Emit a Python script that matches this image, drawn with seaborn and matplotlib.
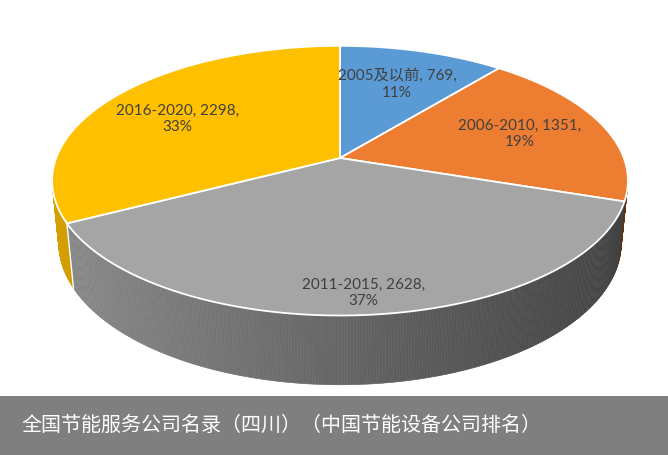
import numpy as np
import matplotlib
matplotlib.use("Agg")
import matplotlib.pyplot as plt
from matplotlib.patches import Polygon, Rectangle
import seaborn as sns

categories = ["2005及以前", "2006-2010", "2011-2015", "2016-2020"]
counts = [769, 1351, 2628, 2298]
title = "全国节能服务公司名录（四川）（中国节能设备公司排名）"

sns.set_theme(style="white")
plt.rcParams['font.family'] = ['Lato', 'Noto Sans CJK SC', 'DejaVu Sans']

colors = sns.color_palette(["#5B9BD5", "#ED7D31", "#A5A5A5", "#FFC000"])

# simple perspective camera for the "3D" pie (pixel space)
cx, cy = 340, 158
fx, fy = 1490, 1465
elev = np.radians(28)
dist = 5.25
depth_h = 0.255
# label placement (radius fraction, angle nudge in degrees)
label_r = [0.66, 0.68, 0.88, 0.68]
label_dth = [0, 0, 0, -3.9]


def project(X, Y, Z=0.0):
    s, c = np.sin(elev), np.cos(elev)
    d = dist + Y * c - Z * s
    return cx + fx * X / d, cy - fy * (Y * s + Z * c) / d


def shade(rgb, f):
    return tuple(min(1, max(0, v * f)) for v in rgb)


frac = np.array(counts) / np.sum(counts)
edges = np.concatenate([[0], np.cumsum(frac)]) * 2 * np.pi

fig = plt.figure(figsize=(6.68, 4.55), dpi=100)
ax = fig.add_axes([0, 0, 1, 1])
ax.set_xlim(0, 668)
ax.set_ylim(455, 0)
ax.axis('off')

# side wall, drawn back to front
x_left, x_right = project(-1, -0.17)[0], project(1, -0.17)[0]
strips = []
for i in range(len(counts)):
    th = np.linspace(edges[i], edges[i + 1], max(4, int(np.degrees(edges[i + 1] - edges[i]) * 2)))
    for a0, a1 in zip(th[:-1], th[1:]):
        pts = [project(np.sin(a0), np.cos(a0), 0), project(np.sin(a1), np.cos(a1), 0),
               project(np.sin(a1), np.cos(a1), -depth_h), project(np.sin(a0), np.cos(a0), -depth_h)]
        xm = np.mean([p[0] for p in pts])
        t = np.clip((xm - x_left) / (x_right - x_left), 0, 1)
        f = 0.84 - 0.45 * t
        strips.append((np.cos((a0 + a1) / 2), pts, shade(colors[i], f)))
strips.sort(key=lambda s: -s[0])
for _, pts, col in strips:
    ax.add_patch(Polygon(pts, closed=True, facecolor=col, edgecolor=col, lw=0.4))

# white seam between yellow and gray walls
a = edges[3]
ax.plot(*zip(project(np.sin(a), np.cos(a), 0), project(np.sin(a), np.cos(a), -depth_h)),
        color="white", lw=1.0)

# top face
for i in range(len(counts)):
    th = np.linspace(edges[i], edges[i + 1], 200)
    pts = [project(0, 0)] + [project(np.sin(a), np.cos(a)) for a in th]
    ax.add_patch(Polygon(pts, closed=True, facecolor=colors[i], edgecolor="white", lw=1.3))

# data labels
for i, name in enumerate(categories):
    mid = (edges[i] + edges[i + 1]) / 2 + np.radians(label_dth[i])
    r = label_r[i]
    x, y = project(r * np.sin(mid), r * np.cos(mid))
    ax.text(x, y, f"{name}, {counts[i]},\n{frac[i] * 100:.0f}%", ha="center", va="center",
            fontsize=11, color="#404040", linespacing=1.25)

# caption bar
ax.add_patch(Rectangle((0, 396), 668, 59, facecolor="#7f7f7f", edgecolor="none"))
ax.text(21, 425, title, ha="left", va="center", fontsize=14.4, color="white",
        family=['Noto Sans CJK SC', 'DejaVu Sans'])

fig.savefig("out.png", dpi=100)
